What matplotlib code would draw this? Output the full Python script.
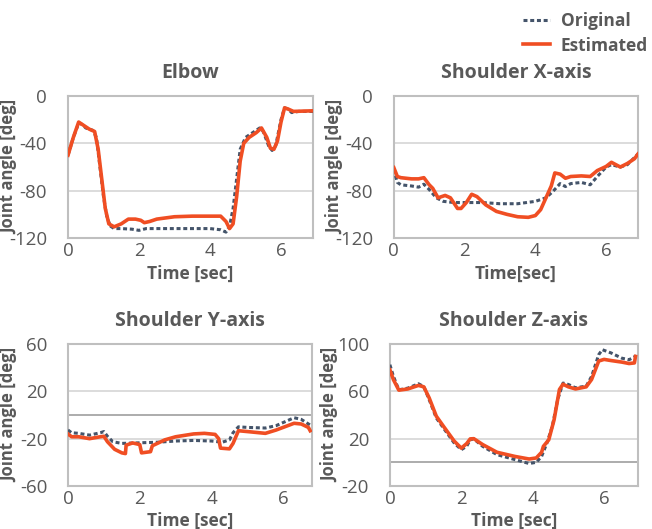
import numpy as np
import matplotlib
matplotlib.use('Agg')
import matplotlib.pyplot as plt

plt.rcParams['font.family'] = ['Open Sans', 'DejaVu Sans']
plt.rcParams['axes.unicode_minus'] = False

# Elbow
elbow_t_orig = [0, 0.15, 0.3, 0.4, 0.5, 0.7, 0.8, 0.9, 1.0, 1.1, 1.2, 1.3, 1.5, 1.8, 2.0, 2.2, 2.5, 3.0, 3.5,
                4.0, 4.3, 4.45, 4.55, 4.65, 4.75, 4.85, 5.0, 5.2, 5.4, 5.5, 5.65, 5.75, 5.85, 6.0, 6.1, 6.2, 6.3,
                6.5, 6.9]
elbow_orig = [-50, -35, -23, -24, -27, -29, -35, -60, -85, -103, -110, -112, -112, -112.5, -113.5, -112, -112,
              -112, -112, -112, -113, -115, -110, -95, -70, -45, -35, -31, -27, -30, -42, -46, -42, -20, -10,
              -11, -14, -13, -13]
elbow_t_est = [0, 0.15, 0.3, 0.45, 0.6, 0.75, 0.85, 0.95, 1.05, 1.15, 1.3, 1.5, 1.7, 1.9, 2.05, 2.15, 2.3, 2.5,
               3.0, 3.5, 4.0, 4.3, 4.45, 4.55, 4.65, 4.75, 4.85, 4.95, 5.1, 5.3, 5.45, 5.6, 5.7, 5.8, 5.9, 6.0,
               6.1, 6.2, 6.35, 6.9]
elbow_est = [-50, -35, -22, -25, -28, -30, -45, -70, -95, -108, -110.5, -108, -104, -104, -105, -107, -106,
             -104, -102, -101.5, -101.5, -101.5, -106, -112, -108, -85, -55, -40, -35, -31, -27, -35, -44, -45,
             -38, -22, -10, -11, -13, -12.5]

# Shoulder X
shx_t_orig = [0, 0.1, 0.2, 0.5, 0.7, 0.85, 1.0, 1.2, 1.4, 1.7, 2.0, 2.5, 3.0, 3.5, 4.0, 4.3, 4.5, 4.7, 4.85,
              5.0, 5.3, 5.55, 5.75, 6.0, 6.15, 6.4, 6.6, 6.8, 6.9]
shx_orig = [-62, -73, -75, -76, -77, -74.5, -79, -86, -89, -90, -90, -90, -91, -91, -89, -86, -80.5, -74,
            -76.5, -74, -73, -75, -68, -60, -58, -60, -58, -52, -49]
shx_t_est = [0, 0.1, 0.2, 0.5, 0.7, 0.85, 1.0, 1.1, 1.25, 1.45, 1.6, 1.8, 1.9, 2.05, 2.2, 2.35, 2.6, 2.9, 3.2,
             3.5, 3.8, 4.0, 4.15, 4.3, 4.45, 4.55, 4.7, 4.85, 5.0, 5.3, 5.55, 5.75, 6.0, 6.15, 6.4, 6.6, 6.8,
             6.9]
shx_est = [-60.5, -68, -69, -70, -70, -69, -75, -78, -86, -84, -86, -95, -95, -90, -83, -85, -92, -97.5,
           -100, -102, -102.5, -101, -96, -86, -76, -65, -66, -69.5, -68, -67.5, -68, -63, -59.5, -56, -60,
           -57, -53, -49]

# Shoulder Y
shy_t_orig = [0, 0.1, 0.3, 0.6, 0.9, 1.0, 1.1, 1.25, 1.5, 2.0, 2.5, 3.0, 3.5, 4.0, 4.3, 4.5, 4.6, 4.75, 5.0,
              5.5, 5.8, 6.1, 6.3, 6.5, 6.75]
shy_orig = [-12.7, -15, -15.5, -17, -15, -14, -18, -22.6, -24, -23.5, -23, -22, -21.5, -22, -23, -21, -15,
            -10, -10.5, -11, -9, -5, -2.3, -3.7, -8.5]
shy_t_est = [0, 0.1, 0.3, 0.6, 0.9, 1.0, 1.1, 1.3, 1.5, 1.6, 1.62, 1.8, 2.0, 2.05, 2.3, 2.35, 2.7, 3.0, 3.5,
             3.8, 4.1, 4.2, 4.25, 4.5, 4.6, 4.75, 5.0, 5.5, 5.8, 6.1, 6.3, 6.5, 6.7, 6.75]
shy_est = [-16, -18.4, -18.4, -20, -18.4, -18, -22.6, -29, -32, -32.6, -25.5, -23.6, -25, -32, -31, -26, -21,
           -18.4, -16, -15.5, -16.4, -20, -28, -28.6, -24, -13.3, -14, -15.5, -12.7, -9.3, -7, -7.6, -10.5,
           -13.3]

# Shoulder Z
shz_t_orig = [0, 0.1, 0.25, 0.5, 0.8, 0.95, 1.1, 1.3, 1.5, 1.8, 2.0, 2.15, 2.25, 2.35, 2.6, 3.0, 3.5, 3.9,
              4.1, 4.25, 4.4, 4.55, 4.7, 4.85, 5.0, 5.2, 5.5, 5.65, 5.85, 5.95, 6.2, 6.5, 6.7, 6.9]
shz_orig = [82.5, 72.6, 61.3, 62.7, 66.4, 64, 53, 37.5, 29, 16.4, 10.7, 13.5, 19, 19.8, 13.5, 6.5, 2.3, -1, 0,
            5, 16.4, 30.5, 53, 67, 65.8, 63, 64.4, 72.6, 91, 95.2, 92.4, 88, 86.7, 90]
shz_t_est = [0, 0.1, 0.25, 0.5, 0.8, 0.95, 1.1, 1.3, 1.5, 1.8, 2.0, 2.15, 2.25, 2.35, 2.6, 3.0, 3.5, 3.9, 4.1,
             4.25, 4.3, 4.45, 4.6, 4.75, 4.85, 5.0, 5.2, 5.5, 5.65, 5.85, 6.0, 6.2, 6.5, 6.7, 6.85, 6.88]
shz_est = [78.2, 69.8, 61, 62, 65, 63.8, 54.5, 39, 30.5, 18, 12, 15.8, 19.8, 20, 15, 8.5, 5, 2.8, 3.7, 8.5,
           13.5, 19, 36, 61.6, 66, 63.8, 62, 63.8, 70, 85.6, 87, 86, 84.7, 83.5, 84, 89.5]

grey = '#595959'
c_orig = '#44546A'
c_est = '#F04E23'

fig = plt.figure(figsize=(6.52, 5.29), dpi=100)

panels = [
    ('Elbow', [0.1043, 0.550, 0.3757, 0.2685], elbow_t_orig, elbow_orig, elbow_t_est, elbow_est,
     (-120, 0), [0, -40, -80, -120], 6.9, 'Time [sec]'),
    ('Shoulder X-axis', [0.604, 0.550, 0.3745, 0.2685], shx_t_orig, shx_orig, shx_t_est, shx_est,
     (-120, 0), [0, -40, -80, -120], 6.9, 'Time[sec]'),
    ('Shoulder Y-axis', [0.1043, 0.0813, 0.3742, 0.2684], shy_t_orig, shy_orig, shy_t_est, shy_est,
     (-60, 60), [60, 20, -20, -60], 6.8, 'Time [sec]'),
    ('Shoulder Z-axis', [0.598, 0.0813, 0.3805, 0.2684], shz_t_orig, shz_orig, shz_t_est, shz_est,
     (-20, 100), [100, 60, 20, -20], 6.95, 'Time [sec]'),
]

for title, pos, to, yo, te, ye, ylim, yt, xmax, xl in panels:
    ax = fig.add_axes(pos)
    ax.plot(to, yo, color=c_orig, lw=2.2, ls=(0, (1.3, 0.9)), label='Original', zorder=3)
    ax.plot(te, ye, color=c_est, lw=2.6, label='Estimated', zorder=4)
    ax.set_xlim(0, xmax)
    ax.set_ylim(*ylim)
    ax.set_xticks([0, 2, 4, 6])
    ax.set_yticks(yt)
    for v in yt[1:-1]:
        ax.axhline(v, color='#D9D9D9', lw=1.3, zorder=1)
    if ylim[0] < 0 < ylim[1]:
        ax.axhline(0, color='#A6A6A6', lw=1.3, zorder=1)
    for s in ax.spines.values():
        s.set_color('#BFBFBF')
        s.set_linewidth(1.5)
    ax.tick_params(length=0, labelsize=13.5, colors=grey, pad=3)
    ax.tick_params(axis='y', pad=15)
    ax.set_title(title, fontsize=14, fontweight='bold', color=grey, pad=13)
    ax.set_xlabel(xl, fontsize=12.5, fontweight='bold', color=grey, labelpad=3)
    ax.set_ylabel('Joint angle [deg]', fontsize=12, fontweight='bold', color=grey)
    ax.yaxis.set_label_coords(-0.205, 0.5)

h, l = ax.get_legend_handles_labels()
fig.legend(h, l, loc='upper right', bbox_to_anchor=(1.018, 1.006), frameon=False, handlelength=1.6,
           handletextpad=0.6, labelspacing=0.35, prop={'size': 12.5, 'weight': 'bold'}, labelcolor=grey)

fig.savefig('out.png', dpi=100)
